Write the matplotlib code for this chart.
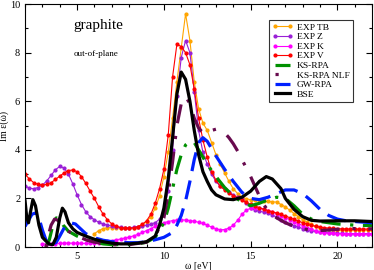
import numpy as np
import matplotlib
matplotlib.use("Agg")
import matplotlib.pyplot as plt
from matplotlib.ticker import MultipleLocator

plt.rcParams['font.family'] = ['Liberation Serif', 'DejaVu Serif']

# experimental curves (regular 0.25 eV grid)
x_exp_v = np.arange(2.0, 22.001, 0.25)
exp_v = [3.00, 2.80, 2.65, 2.58, 2.55, 2.58, 2.65, 2.78, 2.92, 3.05, 3.15, 3.17, 3.10, 2.90, 2.62, 2.30,
         2.00, 1.65, 1.35, 1.12, 0.95, 0.86, 0.80, 0.78, 0.77, 0.79, 0.84, 0.93, 1.08, 1.35, 1.80, 2.40,
         3.20, 4.60, 7.00, 8.35, 8.25, 8.00, 7.50, 6.50, 5.30, 4.40, 3.70, 3.10, 2.75, 2.50, 2.35, 2.22,
         2.12, 2.02, 1.93, 1.84, 1.76, 1.68, 1.62, 1.56, 1.50, 1.45, 1.40, 1.34, 1.28, 1.21, 1.14, 1.07,
         1.00, 0.94, 0.89, 0.85, 0.82, 0.80, 0.78, 0.77, 0.76, 0.75, 0.75, 0.74, 0.74, 0.74, 0.74, 0.74,
         0.74]

x_exp_z = np.arange(2.0, 22.001, 0.25)
exp_z = [2.52, 2.42, 2.40, 2.45, 2.55, 2.72, 2.95, 3.18, 3.32, 3.25, 3.00, 2.60, 2.15, 1.75, 1.45, 1.25,
         1.12, 1.02, 0.95, 0.90, 0.86, 0.83, 0.81, 0.80, 0.80, 0.81, 0.83, 0.86, 0.90, 0.95, 1.00, 1.15,
         1.50, 2.30, 4.00, 6.20, 7.80, 8.50, 8.00, 6.40, 4.80, 3.90, 3.40, 3.00, 2.70, 2.50, 2.38, 2.25,
         2.15, 2.05, 1.98, 1.80, 1.62, 1.52, 1.47, 1.44, 1.40, 1.32, 1.22, 1.12, 1.03, 0.95, 0.88, 0.82,
         0.76, 0.71, 0.67, 0.64, 0.62, 0.60, 0.58, 0.57, 0.56, 0.56, 0.55, 0.55, 0.55, 0.55, 0.55, 0.55,
         0.55]

x_exp_tb = np.arange(6.0, 22.001, 0.25)
exp_tb = [0.55, 0.68, 0.76, 0.80, 0.80, 0.80, 0.79, 0.78, 0.78, 0.80, 0.84, 0.92, 1.05, 1.25, 1.60, 2.10,
          2.90, 3.90, 5.30, 6.80, 8.20, 9.60, 8.50, 6.80, 5.70, 5.10, 4.80, 4.30, 3.80, 3.40, 3.05, 2.70,
          2.40, 2.20, 2.05, 1.98, 1.95, 1.93, 1.92, 1.90, 1.88, 1.86, 1.85, 1.75, 1.65, 1.52, 1.38, 1.25,
          1.12, 1.02, 0.93, 0.86, 0.80, 0.76, 0.73, 0.71, 0.70, 0.70, 0.70, 0.70, 0.70, 0.70, 0.70, 0.70,
          0.70]

x_exp_k = np.arange(3.0, 22.001, 0.25)
exp_k = [0.12, 0.13, 0.13, 0.14, 0.15, 0.16, 0.16, 0.16, 0.16, 0.15, 0.15, 0.15, 0.16, 0.18, 0.20, 0.23,
         0.26, 0.30, 0.33, 0.37, 0.41, 0.46, 0.52, 0.60, 0.68, 0.76, 0.85, 0.93, 1.00, 1.05, 1.09, 1.11,
         1.12, 1.11, 1.09, 1.06, 1.02, 0.97, 0.90, 0.82, 0.75, 0.71, 0.72, 0.78, 0.90, 1.10, 1.35, 1.52,
         1.60, 1.62, 1.60, 1.55, 1.50, 1.44, 1.37, 1.29, 1.21, 1.13, 1.05, 0.96, 0.88, 0.80, 0.73, 0.67,
         0.62, 0.59, 0.57, 0.56, 0.55, 0.55, 0.54, 0.54, 0.54, 0.54, 0.54, 0.54, 0.54]

# theory curves
x_ks = [3.2, 3.4, 3.6, 3.8, 4.0, 4.2, 4.5, 5.0, 5.5, 6.0, 6.5, 7.0, 8.0, 8.5, 9.0, 9.5, 10.0, 10.25,
        10.5, 10.75, 11.0, 11.25, 11.5, 11.75, 12.0, 12.5, 13.0, 13.5, 14.0, 14.5, 15.0, 15.5, 16.0,
        16.5, 17.0, 17.5, 18.0, 18.5, 19.0, 20.0, 21.0, 22.0]
ks_rpa = [0.0, 0.3, 0.9, 1.2, 1.15, 0.9, 0.65, 0.45, 0.30, 0.20, 0.13, 0.10, 0.10, 0.12, 0.20, 0.40,
          1.00, 1.60, 2.40, 3.20, 3.80, 4.20, 4.35, 4.30, 4.00, 3.40, 2.90, 2.45, 2.10, 1.85, 1.70,
          1.80, 1.95, 2.05, 2.00, 1.70, 1.35, 1.15, 1.05, 0.95, 0.90, 0.88]

x_nlf = [3.2, 3.35, 3.5, 3.7, 3.9, 4.1, 4.5, 5.0, 5.5, 6.0, 7.0, 8.0, 9.0, 9.5, 10.0, 10.25, 10.5,
         10.75, 11.0, 11.25, 11.5, 11.75, 12.0, 12.25, 12.5, 12.75, 13.0, 13.25, 13.5, 13.75, 14.0,
         14.25, 14.5, 14.75, 15.0, 15.25, 15.5, 15.75, 16.0, 16.5, 17.0, 17.5, 18.0, 18.5, 19.0, 19.5,
         20.0, 20.5, 21.0, 22.0]
ks_nlf = [0.0, 0.5, 0.9, 1.15, 1.1, 0.9, 0.65, 0.45, 0.30, 0.20, 0.10, 0.10, 0.20, 0.45, 1.20, 2.20,
          3.50, 5.00, 5.90, 6.20, 5.90, 5.30, 4.90, 4.70, 4.70, 4.80, 4.85, 4.80, 4.70, 4.50, 4.25,
          3.95, 3.60, 3.25, 2.90, 2.50, 2.10, 1.75, 1.50, 1.20, 1.00, 0.85, 0.75, 0.70, 0.68, 0.70,
          0.73, 0.76, 0.76, 0.75]

x_gw = [2.0, 2.2, 2.4, 2.6, 2.8, 3.0, 3.2, 3.4, 3.6, 3.8, 4.0, 4.3, 4.6, 4.9, 5.2, 5.5, 6.0, 6.5, 7.0,
        8.0, 8.5, 9.0, 9.5, 10.0, 10.5, 10.75, 11.0, 11.25, 11.5, 11.75, 12.0, 12.25, 12.5, 12.75,
        13.0, 13.5, 14.0, 14.5, 15.0, 15.5, 16.0, 16.5, 17.0, 17.5, 18.0, 18.5, 19.0, 19.5, 20.0,
        20.5, 21.0, 22.0]
gw_rpa = [0.85, 1.10, 1.35, 1.40, 1.20, 0.70, 0.30, 0.12, 0.10, 0.20, 0.45, 0.85, 1.00, 0.95, 0.75,
          0.55, 0.38, 0.28, 0.22, 0.18, 0.18, 0.22, 0.30, 0.40, 0.60, 0.90, 1.30, 1.90, 2.70, 3.60,
          4.30, 4.50, 4.35, 4.05, 3.75, 3.20, 2.70, 2.25, 2.00, 1.95, 2.05, 2.20, 2.35, 2.35, 2.20,
          1.90, 1.55, 1.30, 1.15, 1.08, 1.05, 1.00]

x_bse = [2.0, 2.1, 2.2, 2.3, 2.45, 2.6, 2.8, 3.0, 3.2, 3.4, 3.6, 3.8, 4.0, 4.15, 4.3, 4.5, 4.75, 5.0,
         5.5, 6.0, 6.5, 7.0, 7.5, 8.0, 8.5, 9.0, 9.5, 9.75, 10.0, 10.25, 10.5, 10.75, 11.0, 11.25,
         11.5, 11.75, 12.0, 12.25, 12.5, 12.75, 13.0, 13.5, 14.0, 14.5, 15.0, 15.5, 15.9, 16.25,
         16.75, 17.0, 17.5, 18.0, 18.5, 19.0, 20.0, 21.0, 22.0]
bse = [1.90, 1.20, 1.00, 1.40, 1.95, 1.70, 0.90, 0.40, 0.25, 0.12, 0.10, 0.40, 1.20, 1.60, 1.45,
       1.00, 0.75, 0.60, 0.45, 0.32, 0.22, 0.16, 0.13, 0.13, 0.16, 0.22, 0.45, 0.90, 1.60, 2.80,
       4.50, 6.30, 7.20, 6.90, 6.00, 4.80, 3.80, 3.10, 2.70, 2.35, 2.15, 1.98, 1.95, 2.05, 2.30,
       2.70, 2.90, 2.80, 2.40, 2.00, 1.55, 1.25, 1.10, 1.07, 1.08, 1.08, 1.05]

fig = plt.figure(figsize=(3.74, 2.70), dpi=100)
ax = fig.add_axes([0.067, 0.085, 0.928, 0.9])

mk = dict(marker='o', markersize=2.0, linewidth=0.8)
ax.plot(x_exp_tb, exp_tb, color='#ffa500', label='EXP TB', **mk)
ax.plot(x_exp_z, exp_z, color='#9a1fd6', label='EXP Z', **mk)
ax.plot(x_exp_k, exp_k, color='#ff00ff', label='EXP K', **mk)
ax.plot(x_exp_v, exp_v, color='#ff0000', label='EXP V', **mk)
ax.plot(x_ks, ks_rpa, color='#009000', lw=2.3, dashes=(6, 3, 1, 3), label='KS-RPA')
ax.plot(x_nlf, ks_nlf, color='#680a4e', lw=2.3, dashes=(1, 4, 6, 4), label='KS-RPA NLF')
ax.plot(x_gw, gw_rpa, color='#0020ff', lw=2.3, dashes=(6, 3), label='GW-RPA')
ax.plot(x_bse, bse, color='black', lw=2.3, label='BSE')

ax.set_xlim(2, 22)
ax.set_ylim(0, 10)
ax.xaxis.set_major_locator(MultipleLocator(5))
ax.xaxis.set_minor_locator(MultipleLocator(1))
ax.yaxis.set_major_locator(MultipleLocator(2))
ax.yaxis.set_minor_locator(MultipleLocator(1))
ax.tick_params(which='both', direction='in', top=True, right=True, labelsize=7.5, width=0.8)
ax.tick_params(which='major', length=4)
ax.tick_params(which='minor', length=2)
ax.set_xlabel('ω [eV]', fontsize=7, labelpad=1)
ax.set_ylabel('Im ε(ω)', fontsize=7)
ax.yaxis.set_label_coords(-0.045, 0.5)

ax.text(0.14, 0.91, 'graphite', transform=ax.transAxes, fontsize=11, va='center')
ax.text(0.14, 0.795, 'out-of-plane', transform=ax.transAxes, fontsize=6.5, va='center')

leg = ax.legend(loc='upper right', bbox_to_anchor=(0.945, 0.935), fontsize=6.8, numpoints=2,
                handlelength=2.2, frameon=True, fancybox=False, borderpad=0.35,
                labelspacing=0.1, handletextpad=0.4, borderaxespad=0)
leg.get_frame().set_edgecolor('black')
leg.get_frame().set_linewidth(0.8)

fig.savefig('out.png', dpi=100)
